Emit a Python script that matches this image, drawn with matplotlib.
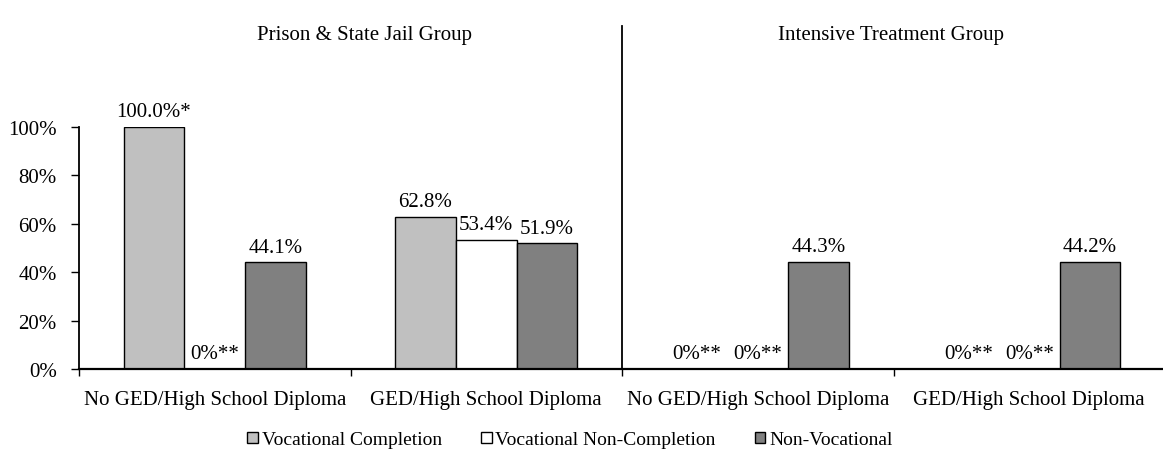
import matplotlib.pyplot as plt
import numpy as np

plt.rcParams['font.family'] = ['Liberation Serif', 'DejaVu Serif']
plt.rcParams['font.size'] = 15

# categories: two groups x two education levels
categories = ['No GED/High School Diploma', 'GED/High School Diploma',
              'No GED/High School Diploma', 'GED/High School Diploma']
groups = ['Prison & State Jail Group', 'Intensive Treatment Group']
series = ['Vocational Completion', 'Vocational Non-Completion', 'Non-Vocational']

# percentages
voc_completion = [100.0, 62.8, 0.0, 0.0]
voc_noncompletion = [0.0, 53.4, 0.0, 0.0]
non_vocational = [44.1, 51.9, 44.3, 44.2]

# significance marks attached to the data labels
completion_marks = ['*', '', '**', '**']
noncompletion_marks = ['**', '', '**', '**']
nonvoc_marks = ['', '', '', '']

colors = ['#C0C0C0', '#FFFFFF', '#808080']


def fmt(v, mark):
    if v == 0:
        return f'0%{mark}'
    return f'{v:.1f}%{mark}'


fig = plt.figure(figsize=(11.63, 4.56), dpi=100)
# axes: x from 79px to 1165px, y from 0% at 370px to 100% at 128px
ax = fig.add_axes([79 / 1163, 86 / 456, 1086 / 1163, 242 / 456])

x = np.arange(len(categories))
w = 0.224
all_vals = [voc_completion, voc_noncompletion, non_vocational]
all_marks = [completion_marks, noncompletion_marks, nonvoc_marks]
for i, (vals, marks) in enumerate(zip(all_vals, all_marks)):
    pos = x + (i - 1) * w
    ax.bar(pos, vals, width=w, color=colors[i], edgecolor='black',
           linewidth=1.0, label=series[i], zorder=2)
    for p, v, m in zip(pos, vals, marks):
        ax.annotate(fmt(v, m), (p, v), xytext=(0, 4), textcoords='offset points',
                    ha='center', va='bottom', clip_on=False)

ax.set_xlim(-0.5, 3.5)
ax.set_ylim(0, 100)
ax.set_yticks(np.arange(0, 101, 20))
ax.set_yticklabels([f'{t}%' for t in range(0, 101, 20)])
ax.set_xticks(x)
ax.set_xticklabels(categories)
ax.set_xticks([-0.5, 0.5, 1.5, 2.5], minor=True)
ax.tick_params(axis='x', which='major', length=0, pad=15)
ax.tick_params(axis='x', which='minor', length=5, width=1, direction='out')
ax.tick_params(axis='y', length=6, width=1, direction='out', pad=10)

for s in ['top', 'right']:
    ax.spines[s].set_visible(False)
ax.spines['left'].set_linewidth(1.3)
ax.spines['bottom'].set_linewidth(1.6)

# divider between the two groups
ax.axvline(1.5, ymin=0, ymax=(370 - 27) / 242, color='black', linewidth=1.3,
           clip_on=False, zorder=3)

# group titles
ax.text(0.55, (370 - 35) / 242 * 100, groups[0], ha='center', va='center')
ax.text(2.49, (370 - 35) / 242 * 100, groups[1], ha='center', va='center')

fig.legend(loc='center', bbox_to_anchor=(570 / 1163, 15 / 456), ncol=3, frameon=False,
           handlelength=0.55, handleheight=0.55, handletextpad=0.2, columnspacing=2.0,
           fontsize=14, borderaxespad=0)

fig.savefig('out.png', dpi=100)
